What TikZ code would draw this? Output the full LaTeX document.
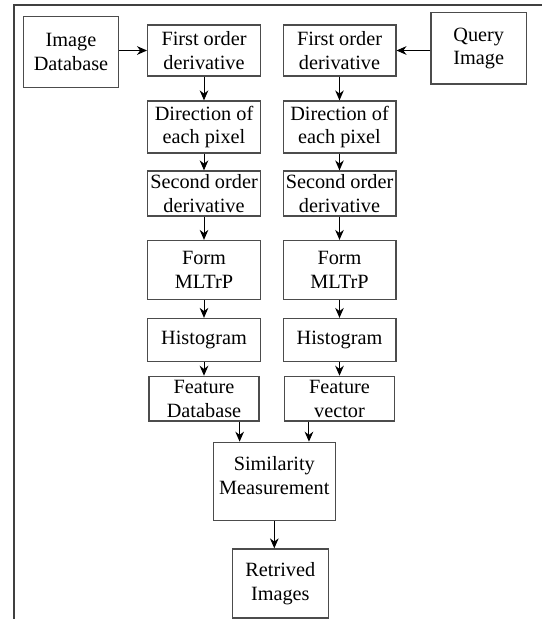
\documentclass[tikz,border=0pt]{standalone}
\usepackage{fontspec}
\setmainfont{Liberation Serif}
\usetikzlibrary{arrows.meta}

\tikzset{
  stepbox/.style={draw=black!70, line width=1pt, align=center, inner xsep=1pt,
    inner ysep=1pt, minimum width=84.5pt, font=\fontsize{15.2}{17.8}\selectfont},
  frame/.style={draw=black!75, line width=1.2pt}
}

\begin{document}
\begin{tikzpicture}[x=0.75pt, y=-0.75pt, >={Stealth[length=7.5pt,width=6.5pt]}, line width=0.75pt]
\useasboundingbox (0,0) rectangle (542,619);

% Draw the frame
\draw [frame] (542,5) -- (14,5) -- (14,619);

% Draw input nodes
\node [stepbox, minimum width=71.25pt, minimum height=52.9pt] (imgdb) at (71,52) {Image\\Database};
\node [stepbox, minimum width=71.5pt, minimum height=53.4pt] (query) at (478.7,48.4) {Query\\Image};

% Draw the steps of both columns
\foreach \c/\x in {1/204, 2/339.5} {
  \node [stepbox, minimum height=38.25pt] (fod\c) at (\x,50.5) {First order\\derivative};
  \node [stepbox, minimum height=39pt] (dir\c) at (\x,127) {Direction of\\each pixel};
  \node [stepbox, minimum height=33.75pt] (sod\c) at (\x,193.5) {Second order\\derivative};
  \node [stepbox, minimum height=44.25pt] (form\c) at (\x,270) {Form\\MLTrP};
  \node [stepbox, minimum height=32.25pt] (hist\c) at (\x,340) {Histogram};
}

% Draw feature nodes
\node [stepbox, minimum width=82.5pt, minimum height=33.5pt] (feat1) at (204,398.7) {Feature\\Database};
\node [stepbox, minimum width=82.5pt, minimum height=33.5pt] (feat2) at (339.5,398.7) {Feature\\vector};

% Draw output nodes
\node [stepbox, minimum width=91.5pt, minimum height=58.8pt] (sim) at (274.3,481.5) {Similarity\\Measurement\\[-8.75pt]\mbox{}};
\node [stepbox, minimum width=72pt, minimum height=51.75pt] (ret) at (280.3,583.5) {Retrived\\Images};

% Connect inputs with first step
\draw [->] (imgdb.east |- fod1) -- (fod1);
\draw [->] (query.west |- fod2) -- (fod2);

% Connect the steps
\foreach \a/\b in {fod/dir, dir/sod, sod/form, form/hist, hist/feat}
  \foreach \c in {1,2}
    \draw [->] (\a\c) -- (\b\c);

% Connect features with similarity
\coordinate (in1) at ([xshift=-26pt]sim.north);
\coordinate (in2) at ([xshift=26pt]sim.north);
\draw [->] (feat1.south -| in1) -- (in1);
\draw [->] (feat2.south -| in2) -- (in2);
\draw [->] (sim.south) -- (sim.south |- ret.north);
\end{tikzpicture}
\end{document}
